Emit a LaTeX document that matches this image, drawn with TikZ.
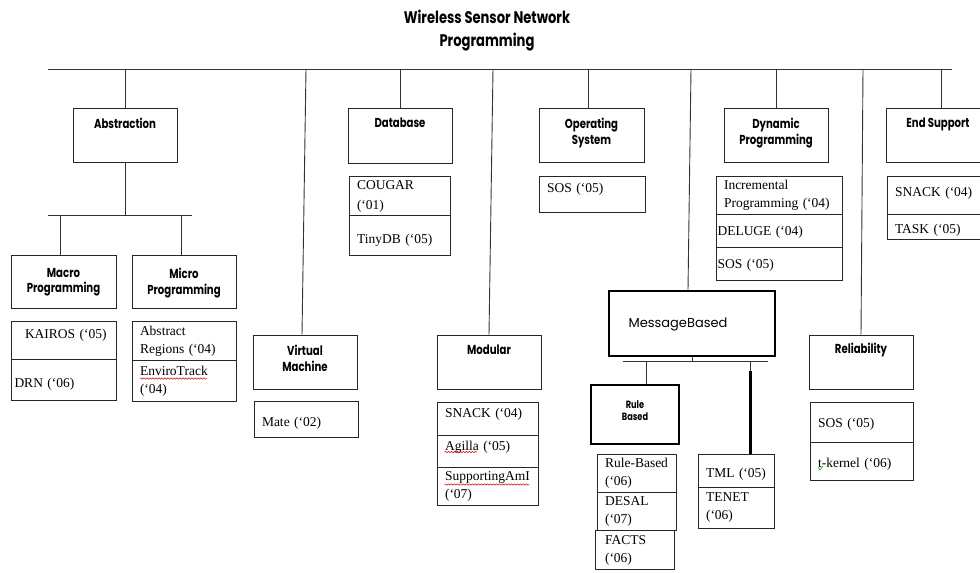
\documentclass[tikz,border=0pt]{standalone}
\usepackage{fontspec}
\setmainfont{Liberation Serif}
\newfontfamily\gothic{Poppins}[FakeStretch=0.78]
\newfontfamily\gothicreg{Poppins}
\usetikzlibrary{decorations.pathmorphing}
\tikzset{
  conn/.style={line width=0.9pt, draw=black!80},
  hdr/.style={draw=black!85, line width=1pt, minimum width=104pt, minimum height=54pt, inner sep=0pt},
  hlab/.style={anchor=north, yshift=-10pt, inner sep=0pt, align=center,
    font=\gothic\bfseries\fontsize{13}{16.5}\selectfont},
  cell/.style={draw=black!85, line width=1pt, anchor=north west, align=left,
    inner xsep=7.5pt, inner ysep=1pt, font=\fontsize{13.5}{18}\selectfont},
  tv/.style 2 args={text height=#1pt, text depth=#2pt},
  squig/.style={draw=red!85!black, line width=0.5pt, decorate,
    decoration={snake, amplitude=0.7pt, segment length=3pt}},
}
\begin{document}
\begin{tikzpicture}[x=1pt,y=-1pt]
\useasboundingbox (0,0) rectangle (980,573);
% title
\node[align=center, inner sep=0pt, font=\gothic\bfseries\fontsize{16.8}{23}\selectfont] (title) at (487,31) {Wireless Sensor Network\\Programming};
% bus
\coordinate (busL) at (48,69);
\coordinate (busR) at (952,69);
\draw[conn] (busL) -- (busR);
% header boxes
\node[hdr, label={[hlab]north:Abstraction}] (abs) at (125,135) {};
\node[hdr, minimum height=55pt, label={[hlab]north:Database}] (db) at (400,135.5) {};
\node[hdr, minimum width=105pt, label={[hlab]north:Operating\\System}] (os) at (591.5,135) {};
\node[hdr, label={[hlab]north:Dynamic\\Programming}] (dyn) at (776,135) {};
\node[hdr, label={[hlab]north:End Support}] (end) at (938,135) {};
\node[hdr, minimum width=105pt, minimum height=53pt, label={[hlab, yshift=-3.5pt, font=\gothic\bfseries\fontsize{13}{15.5}\selectfont]north:Macro\\Programming}] (macro) at (63.5,281.5) {};
\node[hdr, minimum height=53pt, label={[hlab, yshift=-3.5pt, font=\gothic\bfseries\fontsize{13}{15.5}\selectfont]north:Micro\\Programming}] (micro) at (184,281.5) {};
\node[hdr, label={[hlab]north:Virtual\\Machine}] (vm) at (305,362) {};
\node[hdr, label={[hlab]north:Modular}] (mod) at (489,362) {};
\node[hdr, label={[hlab, yshift=2pt]north:Reliability}] (rel) at (861,362) {};
\node[hdr, line width=2pt, draw=black, minimum width=166pt, minimum height=65pt] (msg) at (692,323.5) {};
\node[inner sep=0pt, font=\gothicreg\fontsize{13}{15}\selectfont] (msgt) at (678,324) {MessageBased};
\node[hdr, line width=1.8pt, draw=black, minimum width=88pt, minimum height=59pt,
  label={[hlab, yshift=-6pt, font=\gothic\bfseries\fontsize{10.5}{12.5}\selectfont]north:Rule\\Based}] (rule) at (635,414.5) {};
% connectors from bus
\draw[conn] (abs.north) -- (abs.north |- busL);
\draw[conn] (db.north) -- (db.north |- busL);
\draw[conn] ([xshift=-3.5pt]os.north) -- ([xshift=-3.5pt]os.north |- busL);
\draw[conn] (dyn.north) -- (dyn.north |- busL);
\draw[conn] ([xshift=3pt]end.north) -- ([xshift=3pt]end.north |- busL);
\coordinate (vmT) at (306,69);
\coordinate (modT) at (493,69);
\coordinate (msgT) at (691,69);
\coordinate (relT) at (863,69);
\draw[conn] (vmT) -- ([xshift=-3pt]vm.north);
\draw[conn] (modT) -- (mod.north);
\draw[conn] (msgT) -- ([xshift=-4pt]msg.north);
\draw[conn] (relT) -- (rel.north);
% abstraction sub-bus
\coordinate (sbL) at (48,215);
\coordinate (sbR) at (192,215);
\draw[conn] (abs.south) -- (abs.south |- sbL);
\draw[conn] (sbL) -- (sbR);
\draw[conn] ([xshift=-3.5pt]macro.north) -- ([xshift=-3.5pt]macro.north |- sbL);
\draw[conn] ([xshift=-3pt]micro.north) -- ([xshift=-3pt]micro.north |- sbL);
% message based sub-bus
\coordinate (mbL) at (623,361);
\coordinate (mbR) at (768,361);
\draw[conn] (mbL) -- (mbR);
\draw[conn] (msg.south) -- (msg.south |- mbL);
\draw[conn] ([xshift=11pt]rule.north) -- ([xshift=11pt]rule.north |- mbL);
\coordinate (tmlJ) at (750,371);
% cells
\node[cell, tv={0}{5}, text width=90pt, minimum height=38pt] (k1) at (11,321) {\hspace*{6pt}KAIROS (‘05)};
\node[cell, tv={15}{0}, text width=90pt, minimum height=41pt] (k2) at (11,359) {\hspace*{-4.5pt}DRN (‘06)};
\node[cell, text width=89pt, minimum height=39pt] (m1) at (132,321) {Abstract\\Regions (‘04)};
\node[cell, text width=89pt, minimum height=41pt] (m2) at (132,360) {EnviroTrack\\(‘04)};
\node[cell, tv={13}{0}, text width=89pt, minimum height=36pt] (v1) at (254,401) {Mate (‘02)};
\node[cell, text width=86pt, minimum height=39pt, font=\fontsize{13.5}{20}\selectfont] (d1) at (349,176) {COUGAR\\(‘01)};
\node[cell, tv={15}{0}, text width=86pt, minimum height=40pt] (d2) at (349,215) {TinyDB (‘05)};
\node[cell, tv={0}{3}, text width=86pt, minimum height=33pt] (n1) at (437,402) {SNACK (‘04)};
\node[cell, tv={0}{3}, text width=86pt, minimum height=32pt] (n2) at (437,435) {Agilla (‘05)};
\node[cell, text width=86pt, minimum height=38pt] (n3) at (437,467) {SupportingAmI\\(‘07)};
\node[cell, tv={0}{5}, text width=91pt, minimum height=36pt] (o1) at (539,176) {SOS (‘05)};
\node[cell, text width=111pt, minimum height=38pt] (y1) at (716,176) {Incremental\\Programming (‘04)};
\node[cell, tv={9}{0}, text width=111pt, minimum height=33pt] (y2) at (716,214) {\hspace*{-6.5pt}DELUGE (‘04)};
\node[cell, tv={9}{0}, text width=111pt, minimum height=33pt] (y3) at (716,247) {\hspace*{-6.5pt}SOS (‘05)};
\node[cell, tv={1}{0}, text width=89pt, minimum height=38pt] (e1) at (887,176) {SNACK (‘04)};
\node[cell, tv={12}{0}, text width=89pt, minimum height=25pt] (e2) at (887,214) {TASK (‘05)};
\node[cell, text width=64pt, minimum height=38pt] (r1) at (597,454) {Rule-Based\\(‘06)};
\node[cell, text width=64pt, minimum height=38pt] (r2) at (597,492) {DESAL\\(‘07)};
\node[cell, text width=64pt, minimum height=39pt] (r3) at (595,530) {\hspace*{2pt}FACTS\\\hspace*{2pt}(‘06)};
\node[cell, tv={12}{0}, text width=61pt, minimum height=33pt] (t1) at (698,454) {TML (‘05)};
\node[cell, text width=61pt, minimum height=41pt] (t2) at (698,487) {TENET\\(‘06)};
\node[cell, tv={9}{0}, text width=88pt, minimum height=40pt] (l1) at (810,402) {SOS (‘05)};
\node[cell, tv={11}{0}, text width=88pt, minimum height=38pt] (l2) at (810,442) {t-kernel (‘06)};
% TML connector
\draw[conn] (tmlJ |- mbL) -- (tmlJ);
\draw[line width=3pt] (tmlJ) -- (tmlJ |- t1.north);
% spell-check squiggles
\draw[squig] (140,378.5) -- (207,378.5);
\draw[squig] (444.5,452) -- (477,452);
\draw[squig] (444.5,484.5) -- (529,484.5);
\draw[green!60!black, line width=0.5pt] (818,467) -- (820,470) -- (823,466);
\end{tikzpicture}
\end{document}
